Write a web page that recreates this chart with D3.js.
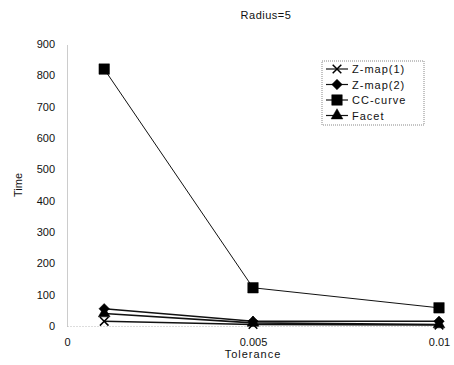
<!DOCTYPE html>
<html>
<head>
<meta charset="utf-8">
<script src="https://cdn.jsdelivr.net/npm/d3@7"></script>
<style>
  body { margin: 0; background: #fff; }
  text { font-family: "Liberation Sans", Arial, sans-serif; fill: #111; }
</style>
</head>
<body>
<div id="chart"></div>
<script>
const tolerance = [0.001, 0.005, 0.01]
const zmap1 = [15, 5, 3]
const zmap2 = [55, 15, 15]
const ccCurve = [820, 122, 58]
const facet = [40, 10, 5]
const seriesNames = ['Z-map(1)', 'Z-map(2)', 'CC-curve', 'Facet']
const xTicks = [0, 0.005, 0.01]
const xTickLabels = ['0', '0.005', '0.01']
const yTicks = [0, 100, 200, 300, 400, 500, 600, 700, 800, 900]

const W = 454, H = 365
const MARGIN = {TOP: 44, BOTTOM: 39, LEFT: 67, RIGHT: 15}

const svg = d3.select('#chart').append('svg')
    .attr('width', W).attr('height', H)

const x = d3.scaleLinear().domain([0, 0.01]).range([MARGIN.LEFT, W - MARGIN.RIGHT])
const y = d3.scaleLinear().domain([0, 900]).range([H - MARGIN.BOTTOM, MARGIN.TOP])

// title
svg.append('text')
    .attr('x', 266).attr('y', 19)
    .attr('text-anchor', 'middle')
    .style('font-size', '11px').style('letter-spacing', '0.5px')
    .text('Radius=5')

// y axis (dotted line, no ticks)
const yAxis = svg.append('g')
    .attr('transform', `translate(${MARGIN.LEFT},0)`)
    .call(d3.axisLeft(y).tickValues(yTicks).tickSize(0).tickPadding(12))
yAxis.select('.domain').attr('stroke', '#999').attr('stroke-dasharray', '1,1')
yAxis.selectAll('text').style('font-size', '11px').style('font-family', '"Liberation Sans", Arial, sans-serif')

// x axis
const xAxis = svg.append('g')
    .attr('transform', `translate(0,${y(0)})`)
    .call(d3.axisBottom(x).tickValues(xTicks).tickFormat((d, i) => xTickLabels[i]).tickSize(0).tickPadding(12))
xAxis.select('.domain').attr('stroke', '#bbb').attr('stroke-dasharray', '1,2')
xAxis.selectAll('text').style('font-size', '11px').style('font-family', '"Liberation Sans", Arial, sans-serif')

// axis titles
svg.append('text')
    .attr('x', 253).attr('y', 358)
    .attr('text-anchor', 'middle')
    .style('font-size', '11px').style('letter-spacing', '1px')
    .text('Tolerance')

svg.append('text')
    .attr('transform', `translate(22,${(y(0) + y(900)) / 2}) rotate(-90)`)
    .attr('text-anchor', 'middle')
    .style('font-size', '11px')
    .text('Time')

// marker shapes
const markers = {
    'Z-map(1)': d3.symbol().type(d3.symbolX).size(50),
    'Z-map(2)': d3.symbol().type(d3.symbolDiamond2).size(70),
    'CC-curve': d3.symbol().type(d3.symbolSquare).size(110),
    'Facet': d3.symbol().type(d3.symbolTriangle).size(60)
}

const allSeries = [zmap1, zmap2, ccCurve, facet]
const line = d3.line().x((d, i) => x(tolerance[i])).y(d => y(d))

allSeries.forEach((vals, k) => {
    const name = seriesNames[k]
    svg.append('path')
        .datum(vals)
        .attr('d', line)
        .attr('fill', 'none')
        .attr('stroke', '#111')
        .attr('stroke-width', name === 'CC-curve' ? 1 : 1.6)

    svg.selectAll(null)
        .data(vals)
        .enter().append('path')
        .attr('transform', (d, i) => `translate(${x(tolerance[i])},${y(d)})`)
        .attr('d', markers[name])
        .attr('fill', '#000')
        .attr('stroke', '#000')
        .attr('stroke-width', name === 'Z-map(1)' ? 1.5 : 0.5)
})

// legend
const lg = svg.append('g').attr('transform', 'translate(322,61)')
lg.append('rect')
    .attr('width', 102).attr('height', 64)
    .attr('fill', '#fff')
    .attr('stroke', '#888').attr('stroke-dasharray', '1,1')

seriesNames.forEach((name, i) => {
    const ly = 8 + i * 15.5
    lg.append('line')
        .attr('x1', 4).attr('x2', 26).attr('y1', ly).attr('y2', ly)
        .attr('stroke', '#111').attr('stroke-width', 1.2)
    lg.append('path')
        .attr('transform', `translate(15,${ly})`)
        .attr('d', markers[name])
        .attr('fill', '#000').attr('stroke', '#000')
        .attr('stroke-width', name === 'Z-map(1)' ? 1.5 : 0.5)
    lg.append('text')
        .attr('x', 30).attr('y', ly + 4)
        .style('font-size', '11px').style('letter-spacing', '1px')
        .text(name)
})
</script>
</body>
</html>
